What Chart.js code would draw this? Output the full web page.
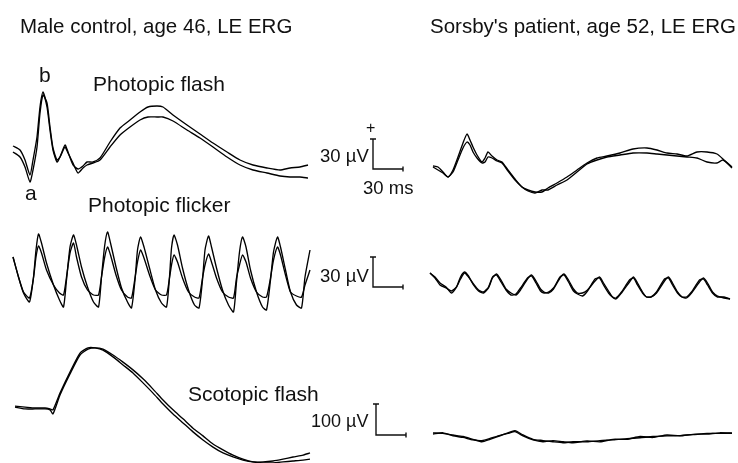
<!DOCTYPE html>
<html>
<head>
<meta charset="utf-8">
<script src="https://cdn.jsdelivr.net/npm/chart.js"></script>
<style>
    html, body { margin: 0; padding: 0; background: #fff; }
    #wrap { position: relative; width: 738px; height: 463px; overflow: hidden; }
    #erg { position: absolute; left: 0; top: 0; }
    .lbl { position: absolute; white-space: nowrap; font-family: "Liberation Sans", Arial, sans-serif; color: #111; }
</style>
</head>
<body>
<div id="wrap"><canvas id="erg" width="738" height="463"></canvas></div>
<script>
// Control eye (left column), times in ms, amplitudes in uV
const flashTimeL = [1, 8, 13, 18, 21, 25, 28, 31, 35, 38, 41, 45, 48, 53, 56, 61, 66, 71, 75, 81,
    88, 98, 108, 118, 128, 136, 145, 151, 161, 175, 188, 201, 215, 228, 241, 255, 268, 278, 288, 296];
const flashCtrlA = [4, 0, -10, -25, -10, 13, 43, 58, 43, 20, 0, -12, -7, 5, -2, -15, -19, -16, -12, -12,
    -8, 8, 22, 30, 38, 43, 44, 43, 35, 25, 16, 7, -2, -10, -15, -18, -20, -18, -17, -15];
const flashCtrlB = [-2, -7, -17, -32, -20, 3, 37, 55, 47, 23, 2, -10, -7, 3, -3, -13, -23, -18, -15, -13,
    -10, 3, 15, 23, 30, 33, 33, 33, 29, 20, 12, 3, -7, -15, -20, -23, -26, -27, -27, -28];

const flickerTimeL = [1, 6.5, 11.5, 17.5, 21.5, 24, 26.5, 29.5, 34.5, 41.5, 47.5, 51.5,
    54.5, 58, 61.5, 64.5, 69.5, 75.5, 81.5, 86.5,
    89.5, 92.5, 95.5, 98.5, 104, 109.5, 115.5, 119.5,
    123, 125.5, 128.5, 132, 137.5, 143.5, 149.5, 154.5,
    157.5, 159.5, 162, 165.5, 170.5, 176.5, 182.5, 187,
    190.5, 193, 196.5, 199.5, 204.5, 210.5, 216.5, 221.5,
    224.5, 227.5, 230.5, 234, 238.5, 244.5, 250.5, 254.5,
    258.5, 261.5, 265.5, 268.5, 273.5, 278.5, 284.5, 289.5,
    293, 298];
const flickerCtrlA = [8, -12, -28, -37, -12, 15, 31, 22, 2, -20, -35, -42,
    -15, 18, 30, 20, -2, -22, -37, -42,
    -12, 18, 33, 22, -2, -23, -37, -43,
    -15, 15, 28, 18, -3, -25, -38, -42,
    -12, 17, 30, 20, -3, -25, -40, -43,
    -15, 15, 29, 18, -3, -25, -40, -47,
    -17, 13, 28, 18, -5, -27, -42, -45,
    -15, 13, 28, 18, -5, -27, -40, -43,
    -12, 15];
const flickerCtrlB = [8, -12, -27, -33, -13, 8, 19, 12, -5, -20, -28, -30,
    -12, 12, 22, 8, -12, -25, -30, -30,
    -12, 7, 18, 10, -10, -25, -32, -33,
    -13, 3, 15, 7, -10, -25, -30, -30,
    -13, 0, 10, 3, -13, -27, -32, -33,
    -13, 0, 11, 3, -13, -27, -32, -33,
    -13, 0, 10, 3, -13, -27, -32, -32,
    -13, 5, 18, 10, -10, -27, -31, -32,
    -20, -5];

const scotTimeL = [3, 13, 23, 33, 38, 41, 48, 58, 68, 76, 83, 91, 101, 111, 121, 131, 141, 151, 161, 171,
    181, 191, 201, 211, 221, 231, 241, 251, 261, 271, 281, 291, 298];
const scotCtrlA = [6, 3, 0, 0, -3, -6, 48, 116, 177, 194, 194, 187, 165, 139, 113, 81, 48, 13, -19, -48,
    -77, -103, -126, -145, -158, -168, -174, -174, -171, -165, -158, -152, -145];
const scotCtrlB = [3, -3, -3, -3, -6, -19, 42, 110, 171, 190, 194, 190, 171, 148, 123, 94, 61, 26, -6, -35,
    -65, -90, -116, -135, -152, -165, -174, -177, -177, -174, -171, -168, -165];

// Sorsby's patient (right column)
const flashTimeR = [3, 8, 13, 18, 23, 28, 33, 37, 40, 43, 47, 52, 55, 58, 62, 67, 72, 78, 85, 92,
    98, 105, 112, 118, 127, 137, 147, 157, 167, 177, 190, 203, 217, 227, 237, 247, 257, 267, 277, 287, 293, 302];
const flashPatA = [-16, -17, -22, -27, -20, -7, 7, 16, 10, 3, -5, -12, -8, -2, -6, -10, -12, -20, -29, -37,
    -40, -42, -42, -38, -33, -27, -20, -13, -8, -6, -3, 1, 2, 0, -3, -4, -6, -2, -2, -4, -9, -18];
const flashPatB = [-17, -20, -23, -27, -22, -10, 2, 8, 5, -2, -8, -13, -12, -7, -8, -11, -13, -21, -30, -37,
    -41, -43, -40, -40, -35, -30, -22, -14, -10, -7, -5, -3, -3, -4, -5, -6, -7, -8, -12, -13, -10, -17];

const flickerTimeR = [0, 5, 10, 16, 21.5, 26.5, 30.5, 34.5, 38.5, 43.5, 48.5, 53.5, 58.5, 62.5, 66.5,
    71, 76, 81, 86, 90.5, 97.5, 101.5, 106, 110.5, 114, 118.5, 123.5, 130, 134, 138.5,
    143.5, 147.5, 152.5, 157.5, 165, 169.5, 173.5, 178.5, 182.5, 186, 191.5, 199.5, 203.5, 207.5, 212.5,
    216.5, 221, 226.5, 234.5, 238.5, 242.5, 247.5, 252, 256.5, 261.5, 269.5, 273.5, 277.5, 282.5, 287.5, 294, 300];
const flickerPatA = [-8, -12, -18, -22, -28, -22, -12, -7, -11, -20, -26, -28, -23, -13, -9, -15, -24, -28, -30, -25,
    -14, -10, -16, -24, -27, -28, -24, -13, -9, -15, -24, -28, -28, -25, -16, -12, -18, -26, -32, -34,
    -28, -17, -12, -18, -27, -32, -32, -28, -16, -12, -18, -27, -32, -33, -28, -17, -13, -18, -27, -31, -33, -34];
const flickerPatB = [-8, -13, -20, -23, -26, -22, -14, -8, -12, -19, -25, -27, -22, -12, -10, -17, -25, -30, -29, -23,
    -13, -11, -18, -26, -28, -27, -23, -12, -10, -17, -26, -29, -31, -26, -14, -13, -20, -28, -32, -33,
    -27, -15, -13, -20, -28, -32, -32, -27, -14, -13, -20, -28, -32, -32, -27, -15, -14, -20, -28, -32, -32, -34];

const scotTimeR = [3, 13, 23, 33, 43, 52, 60, 70, 78, 85, 93, 103, 113, 123, 133, 143, 157, 170, 183, 197,
    210, 223, 237, 250, 263, 277, 290, 302];
const scotPatA = [-80, -82, -87, -92, -101, -109, -101, -90, -80, -73, -87, -101, -105, -109, -112, -109, -109, -105, -103, -99,
    -96, -92, -90, -89, -86, -82, -82, -80];
const scotPatB = [-84, -80, -90, -95, -103, -105, -98, -88, -82, -76, -90, -103, -109, -105, -109, -112, -106, -109, -101, -101,
    -92, -95, -87, -90, -85, -84, -80, -82];

// calibration bars
const scaleBarMs = 30;
const scaleBarUv = [30, 30, 100];

// layout: where each row / column sits on the page
const W = 738, H = 463;
const leftStartPx = 12, rightStartPx = 430;
const rowZeroPx = [150, 265, 408];      // pixel row of 0 uV for each row
const rowPxPerUv = [1, 1, 0.31];
const barAnchors = [{ t: 361, v: -19 }, { t: 361, v: -22 }, { t: 364, v: -87 }];

const labels = [
    { text: 'Male control, age 46, LE ERG', x: 20, base: 33, size: 20.5 },
    { text: "Sorsby's patient, age 52, LE ERG", x: 430, base: 33, size: 20.5 },
    { text: 'b', x: 39, base: 82, size: 21 },
    { text: 'Photopic flash', x: 93, base: 91, size: 21 },
    { text: 'a', x: 25, base: 200, size: 21 },
    { text: 'Photopic flicker', x: 88, base: 212, size: 21 },
    { text: 'Scotopic flash', x: 188, base: 401, size: 21 },
    { text: '+', x: 366, base: 134, size: 16 },
    { text: '30 \u00b5V', x: 320, base: 163, size: 18.5 },
    { text: '30 ms', x: 363, base: 195, size: 18.5 },
    { text: '30 \u00b5V', x: 320, base: 283, size: 18.5 },
    { text: '100 \u00b5V', x: 311, base: 427, size: 18 }
];

const wrap = document.getElementById('wrap');
labels.forEach(l => {
    const d = document.createElement('div');
    d.className = 'lbl';
    d.textContent = l.text;
    d.style.left = l.x + 'px';
    d.style.top = (l.base - 0.8465 * l.size) + 'px';
    d.style.fontSize = l.size + 'px';
    d.style.lineHeight = l.size + 'px';
    wrap.appendChild(d);
});

function pts(times, vals) {
    return times.map((t, i) => ({ x: t, y: vals[i] }));
}

function trace(times, vals, xAxis, yAxis) {
    return {
        data: pts(times, vals),
        xAxisID: xAxis,
        yAxisID: yAxis,
        borderColor: '#000',
        borderWidth: 1.35,
        pointRadius: 0,
        tension: 0.2,
        fill: false
    };
}

function scaleBar(anchor, heightUv, yAxis, pxPerUv) {
    const capT = 3, tickV = 2.5 / pxPerUv;
    const t0 = anchor.t, v0 = anchor.v, top = v0 + heightUv, end = t0 + scaleBarMs;
    return {
        data: [
            { x: t0 - capT, y: top }, { x: t0 + capT, y: top }, { x: t0, y: null },
            { x: t0, y: top }, { x: t0, y: v0 }, { x: end, y: v0 }, { x: end, y: null },
            { x: end, y: v0 + tickV }, { x: end, y: v0 - tickV }
        ],
        xAxisID: 'xL',
        yAxisID: yAxis,
        borderColor: '#111',
        borderWidth: 1.4,
        pointRadius: 0,
        tension: 0,
        spanGaps: false,
        fill: false
    };
}

const yIds = ['yF', 'yK', 'yS'];
const scales = {
    xL: { type: 'linear', display: false, min: -leftStartPx, max: W - leftStartPx },
    xR: { type: 'linear', display: false, min: -rightStartPx, max: W - rightStartPx }
};
yIds.forEach((id, r) => {
    scales[id] = {
        type: 'linear',
        display: false,
        max: rowZeroPx[r] / rowPxPerUv[r],
        min: -(H - rowZeroPx[r]) / rowPxPerUv[r]
    };
});

const datasets = [
    trace(flashTimeL, flashCtrlA, 'xL', 'yF'),
    trace(flashTimeL, flashCtrlB, 'xL', 'yF'),
    trace(flickerTimeL, flickerCtrlA, 'xL', 'yK'),
    trace(flickerTimeL, flickerCtrlB, 'xL', 'yK'),
    trace(scotTimeL, scotCtrlA, 'xL', 'yS'),
    trace(scotTimeL, scotCtrlB, 'xL', 'yS'),
    trace(flashTimeR, flashPatA, 'xR', 'yF'),
    trace(flashTimeR, flashPatB, 'xR', 'yF'),
    trace(flickerTimeR, flickerPatA, 'xR', 'yK'),
    trace(flickerTimeR, flickerPatB, 'xR', 'yK'),
    trace(scotTimeR, scotPatA, 'xR', 'yS'),
    trace(scotTimeR, scotPatB, 'xR', 'yS')
];
yIds.forEach((id, r) => datasets.push(scaleBar(barAnchors[r], scaleBarUv[r], id, rowPxPerUv[r])));

new Chart(document.getElementById('erg').getContext('2d'), {
    type: 'line',
    data: { datasets: datasets },
    options: {
        responsive: false,
        animation: false,
        events: [],
        layout: { padding: 0 },
        plugins: { legend: { display: false }, tooltip: { enabled: false }, title: { display: false } },
        scales: scales
    }
});
</script>
</body>
</html>
